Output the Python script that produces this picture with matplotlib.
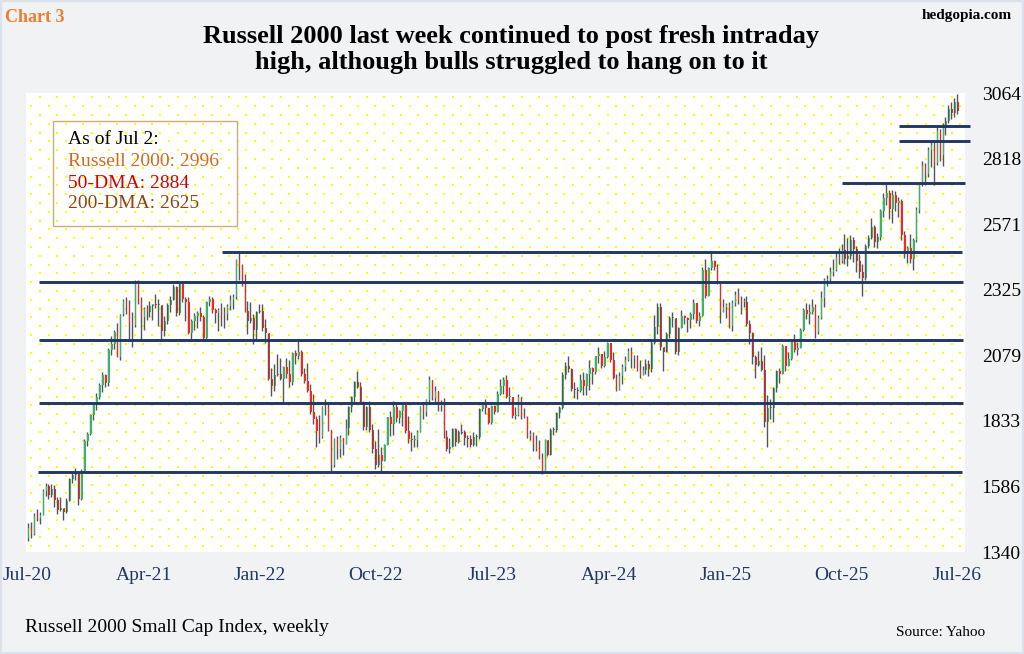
import matplotlib
matplotlib.use("Agg")
import matplotlib.pyplot as plt
import matplotlib.dates as mdates
import numpy as np
import pandas as pd
from matplotlib.patches import Rectangle

# ---------------- data (weekly Russell 2000, week ending Fridays from 2020-07-03) -------------
week_open = [
    # 2020
    1393, 1431, 1409, 1474, 1467, 1480, 1569, 1587, 1553, 1578, 1535, 1497, 1504, 1490, 1531, 1614,
    1631, 1637, 1538, 1644, 1756, 1785, 1855, 1893, 1924, 1969, 2006,
    # 2021
    1975, 2097, 2123, 2168, 2073, 2233, 2282, 2266, 2201, 2192, 2352, 2285, 2221, 2253, 2243, 2264,
    2271, 2267, 2268, 2171, 2207, 2268, 2287, 2335, 2237, 2345, 2292, 2280, 2163, 2209, 2226, 2236,
    2222, 2145, 2278, 2292, 2249, 2236, 2248, 2241, 2233, 2265, 2288, 2297, 2437, 2416, 2343, 2245,
    2206, 2219, 2173, 2240,
    # 2022
    2245, 2180, 2162, 1988, 1964, 2003, 2008, 1990, 2035, 2009, 1978, 2086, 2077, 2092, 2009, 1983,
    1945, 1864, 1839, 1793, 1773, 1887, 1883, 1800, 1665, 1765, 1727, 1770, 1744, 1806, 1885, 1921,
    1977, 1958, 1899, 1809, 1883, 1798, 1726, 1665, 1705, 1681, 1742, 1846, 1821, 1883, 1845, 1869,
    1892, 1796, 1763, 1760,
    # 2023
    1761, 1792, 1887, 1867, 1911, 1985, 1918, 1946, 1890, 1899, 1773, 1725, 1735, 1802, 1755, 1792,
    1791, 1768, 1764, 1741, 1773, 1773, 1876, 1900, 1880, 1823, 1889, 1865, 1934, 1964, 1985, 1921,
    1922, 1850, 1853, 1923, 1849, 1848, 1776, 1785, 1745, 1726, 1692, 1636, 1760, 1705, 1798, 1799,
    1863, 1880, 2004, 2037,
    # 2024
    2027, 1951, 1950, 1946, 1986, 1962, 2007, 2032, 2017, 2077, 2085, 2040, 2072, 2125, 2062, 1995,
    1947, 2002, 2036, 2060, 2096, 2069, 2070, 2023, 2006, 2023, 2048, 2026, 2126, 2184, 2260, 2109,
    2092, 2160, 2218, 2218, 2092, 2182, 2228, 2219, 2212, 2234, 2276, 2208, 2227, 2399, 2303, 2406,
    2434, 2409, 2347, 2240,
    # 2025
    2262, 2268, 2190, 2275, 2307, 2287, 2280, 2280, 2196, 2163, 2073, 2044, 2056, 2023, 1827, 1881,
    1881, 1957, 2020, 2007, 2113, 2039, 2066, 2132, 2098, 2107, 2172, 2249, 2235, 2240, 2261, 2166,
    2218, 2295, 2362, 2367, 2391, 2398, 2448, 2434, 2476, 2440, 2452, 2513, 2479, 2432, 2392, 2369,
    2490, 2520, 2560, 2505,
    # 2026
    2525, 2620, 2670, 2690, 2630, 2680, 2650, 2660, 2530, 2460, 2480, 2440, 2510, 2625, 2720, 2790,
    2760, 2850, 2870, 2800, 2920, 2830, 2940, 2960, 3005, 2990, 3030,
]
week_high = [
    # 2020
    1448, 1452, 1487, 1500, 1490, 1575, 1600, 1594, 1597, 1592, 1545, 1545, 1505, 1543, 1618, 1641,
    1656, 1637, 1650, 1766, 1790, 1859, 1896, 1939, 1975, 2017, 2010,
    # 2021
    2108, 2150, 2175, 2202, 2234, 2290, 2296, 2288, 2241, 2360, 2360, 2297, 2262, 2268, 2281, 2272,
    2308, 2290, 2268, 2225, 2275, 2300, 2345, 2340, 2350, 2349, 2296, 2298, 2215, 2236, 2245, 2260,
    2230, 2282, 2300, 2299, 2258, 2258, 2275, 2260, 2270, 2305, 2310, 2442, 2462, 2420, 2385, 2282,
    2280, 2235, 2245, 2272,
    # 2022
    2273, 2215, 2150, 2030, 2045, 2082, 2068, 2040, 2070, 2060, 2090, 2100, 2133, 2097, 2031, 2050,
    1970, 1935, 1852, 1855, 1890, 1915, 1900, 1780, 1767, 1775, 1780, 1765, 1840, 1890, 1925, 1982,
    2021, 1980, 1906, 1890, 1908, 1820, 1757, 1801, 1735, 1747, 1847, 1870, 1909, 1900, 1875, 1893,
    1880, 1850, 1790, 1778,
    # 2023
    1800, 1890, 1900, 1915, 2001, 1975, 1965, 1935, 1910, 1920, 1800, 1770, 1806, 1805, 1800, 1820,
    1800, 1780, 1780, 1790, 1785, 1880, 1905, 1915, 1880, 1892, 1893, 1945, 1990, 1998, 2003, 1960,
    1920, 1885, 1935, 1920, 1880, 1850, 1800, 1790, 1780, 1760, 1710, 1765, 1762, 1806, 1810, 1865,
    1890, 2015, 2052, 2075,
    # 2024
    2030, 1980, 1960, 2008, 2015, 2011, 2062, 2035, 2078, 2110, 2080, 2094, 2130, 2126, 2090, 2010,
    2015, 2047, 2075, 2108, 2110, 2080, 2080, 2060, 2040, 2065, 2060, 2135, 2230, 2277, 2275, 2110,
    2165, 2228, 2240, 2215, 2185, 2250, 2230, 2222, 2240, 2290, 2270, 2240, 2410, 2440, 2410, 2466,
    2438, 2420, 2355, 2290,
    # 2025
    2275, 2280, 2285, 2320, 2330, 2300, 2295, 2300, 2210, 2165, 2080, 2095, 2110, 2080, 1930, 1915,
    1960, 2025, 2030, 2120, 2110, 2090, 2140, 2160, 2130, 2180, 2255, 2275, 2270, 2290, 2270, 2230,
    2320, 2370, 2380, 2410, 2440, 2465, 2480, 2495, 2535, 2520, 2530, 2525, 2490, 2460, 2420, 2495,
    2530, 2595, 2570, 2540,
    # 2026
    2630, 2690, 2725, 2700, 2700, 2695, 2675, 2665, 2545, 2490, 2535, 2520, 2635, 2725, 2810, 2800,
    2860, 2885, 2882, 2935, 2930, 2950, 2975, 3020, 3030, 3045, 3060,
]
week_low = [
    # 2020
    1380, 1391, 1405, 1455, 1444, 1478, 1550, 1540, 1547, 1508, 1484, 1495, 1460, 1488, 1530, 1598,
    1609, 1517, 1535, 1640, 1738, 1780, 1835, 1875, 1915, 1940, 1960,
    # 2021
    1962, 2080, 2103, 2071, 2060, 2225, 2235, 2132, 2110, 2185, 2270, 2135, 2175, 2213, 2222, 2212,
    2256, 2190, 2135, 2150, 2195, 2240, 2285, 2225, 2230, 2280, 2207, 2160, 2133, 2175, 2181, 2208,
    2131, 2140, 2265, 2237, 2200, 2170, 2190, 2180, 2210, 2250, 2251, 2290, 2360, 2338, 2240, 2160,
    2200, 2123, 2131, 2236,
    # 2022
    2170, 2125, 1985, 1927, 1945, 2000, 1985, 1900, 1992, 1960, 1968, 2045, 2065, 2002, 1975, 1940,
    1860, 1820, 1733, 1750, 1770, 1855, 1796, 1641, 1660, 1690, 1697, 1706, 1744, 1780, 1865, 1900,
    1955, 1895, 1800, 1800, 1790, 1712, 1650, 1660, 1642, 1680, 1742, 1776, 1780, 1830, 1825, 1813,
    1788, 1748, 1718, 1733,
    # 2023
    1733, 1789, 1840, 1850, 1900, 1910, 1900, 1870, 1870, 1770, 1718, 1712, 1735, 1740, 1750, 1782,
    1741, 1735, 1735, 1740, 1740, 1765, 1870, 1860, 1820, 1820, 1857, 1865, 1930, 1935, 1918, 1900,
    1845, 1840, 1850, 1840, 1845, 1770, 1760, 1718, 1720, 1690, 1633, 1636, 1700, 1705, 1780, 1790,
    1845, 1878, 1990, 2017,
    # 2024
    1945, 1920, 1915, 1940, 1930, 1930, 1950, 1970, 2010, 2050, 2030, 2035, 2070, 2055, 1990, 1943,
    1947, 1970, 2020, 2058, 2030, 2030, 2020, 1995, 2005, 2010, 2000, 2016, 2120, 2160, 2100, 2020,
    2090, 2145, 2185, 2085, 2080, 2180, 2195, 2165, 2180, 2215, 2200, 2190, 2227, 2295, 2300, 2400,
    2398, 2345, 2200, 2240,
    # 2025
    2220, 2180, 2170, 2265, 2270, 2235, 2260, 2190, 2120, 2045, 1995, 2040, 2020, 1810, 1733, 1840,
    1830, 1940, 1975, 2007, 2020, 2039, 2060, 2090, 2080, 2105, 2170, 2215, 2195, 2235, 2145, 2160,
    2215, 2260, 2340, 2350, 2375, 2395, 2420, 2425, 2420, 2415, 2440, 2430, 2390, 2370, 2300, 2360,
    2480, 2515, 2485, 2480,
    # 2026
    2510, 2600, 2645, 2590, 2575, 2620, 2600, 2510, 2445, 2425, 2425, 2398, 2505, 2615, 2715, 2718,
    2750, 2785, 2720, 2795, 2810, 2790, 2905, 2950, 2965, 2975, 2985,
]
week_close = [
    # 2020
    1431, 1409, 1474, 1467, 1480, 1569, 1587, 1553, 1578, 1535, 1497, 1504, 1490, 1531, 1614, 1631,
    1637, 1538, 1644, 1756, 1785, 1855, 1893, 1924, 1969, 2006, 1975,
    # 2021
    2097, 2123, 2168, 2073, 2233, 2282, 2266, 2201, 2192, 2352, 2285, 2221, 2253, 2243, 2264, 2271,
    2267, 2268, 2171, 2207, 2268, 2287, 2335, 2237, 2345, 2292, 2280, 2163, 2209, 2226, 2236, 2222,
    2145, 2278, 2292, 2249, 2236, 2248, 2241, 2233, 2265, 2288, 2297, 2437, 2416, 2343, 2245, 2206,
    2219, 2173, 2240, 2245,
    # 2022
    2180, 2162, 1988, 1964, 2003, 2008, 1990, 2035, 2009, 1978, 2086, 2077, 2092, 2009, 1983, 1945,
    1864, 1839, 1793, 1773, 1887, 1883, 1800, 1665, 1765, 1727, 1770, 1744, 1806, 1885, 1921, 1977,
    1958, 1899, 1809, 1883, 1798, 1726, 1665, 1705, 1681, 1742, 1846, 1821, 1883, 1845, 1869, 1892,
    1796, 1763, 1760, 1761,
    # 2023
    1792, 1887, 1867, 1911, 1985, 1918, 1946, 1890, 1899, 1773, 1725, 1735, 1802, 1755, 1792, 1791,
    1768, 1764, 1741, 1773, 1773, 1876, 1900, 1880, 1823, 1889, 1865, 1934, 1964, 1985, 1921, 1922,
    1850, 1853, 1923, 1849, 1848, 1776, 1785, 1745, 1726, 1692, 1636, 1760, 1705, 1798, 1799, 1863,
    1880, 2004, 2037, 2027,
    # 2024
    1951, 1950, 1946, 1986, 1962, 2007, 2032, 2017, 2077, 2085, 2040, 2072, 2125, 2062, 1995, 1947,
    2002, 2036, 2060, 2096, 2069, 2070, 2023, 2006, 2023, 2048, 2026, 2126, 2184, 2260, 2109, 2092,
    2160, 2218, 2218, 2092, 2182, 2228, 2219, 2212, 2234, 2276, 2208, 2227, 2399, 2303, 2406, 2434,
    2409, 2347, 2240, 2262,
    # 2025
    2268, 2190, 2275, 2307, 2287, 2280, 2280, 2196, 2163, 2073, 2044, 2056, 2023, 1827, 1881, 1881,
    1957, 2020, 2007, 2113, 2039, 2066, 2132, 2098, 2107, 2172, 2249, 2235, 2240, 2261, 2166, 2218,
    2295, 2362, 2367, 2391, 2398, 2448, 2434, 2476, 2440, 2452, 2513, 2479, 2432, 2392, 2369, 2490,
    2520, 2560, 2505, 2525,
    # 2026
    2620, 2670, 2690, 2630, 2680, 2650, 2660, 2530, 2460, 2480, 2440, 2510, 2625, 2720, 2790, 2760,
    2850, 2870, 2800, 2920, 2830, 2940, 2960, 3005, 2990, 3030, 2996,
]
first_week = "2020-07-03"

# support / resistance lines
level_values = [2466, 2354, 2136, 1899, 1640, 2725, 2883, 2939]
level_start = ["2021-10-03", "2020-07-29", "2020-07-29", "2020-07-29", "2020-07-27",
               "2025-10-03", "2026-02-15", "2026-02-15"]
level_end = ["2026-07-14", "2026-07-16", "2026-07-16", "2026-07-16", "2026-07-14",
             "2026-07-20", "2026-08-01", "2026-08-01"]

x_tick_dates = ["2020-07-01", "2021-04-01", "2022-01-01", "2022-10-01", "2023-07-01",
                "2024-04-01", "2025-01-01", "2025-10-01", "2026-07-01"]
x_tick_labels = ["Jul-20", "Apr-21", "Jan-22", "Oct-22", "Jul-23", "Apr-24", "Jan-25",
                 "Oct-25", "Jul-26"]
y_ticks = [1340, 1586, 1833, 2079, 2325, 2571, 2818, 3064]
y_tick_labels = ["1340", "1586", "1833", "2079", "2325", "2571", "2818", "3064"]

title_lines = ["Russell 2000 last week continued to post fresh intraday",
               "high, although bulls struggled to hang on to it"]
info_lines = ["As of Jul 2:", "Russell 2000: 2996", "50-DMA: 2884", "200-DMA: 2625"]

# ---------------- style ----------------
plt.rcParams["font.family"] = ["Liberation Serif", "DejaVu Serif"]
W, H = 1024, 654
NAVY = "#1f3864"
GREEN = "#35b865"
RED = "#ff2020"
WICK = "#555555"


def fx(px):
    return px / W


def fy(py):
    return 1 - py / H


fig = plt.figure(figsize=(W / 100, H / 100), dpi=100, facecolor="#f1f2f4")
fig.patches.append(Rectangle((0, 0), 1, 1, transform=fig.transFigure, fill=False,
                             edgecolor="#dbe2ec", lw=3, zorder=0))

AX_L, AX_R, AX_T, AX_B = 26, 965, 93, 552
ax = fig.add_axes([fx(AX_L), fy(AX_B), (AX_R - AX_L) / W, (AX_B - AX_T) / H])
ax.set_facecolor("white")
for s in ax.spines.values():
    s.set_visible(False)

# dotted yellow background pattern
aw, ah = AX_R - AX_L, AX_B - AX_T
dot_x, dot_y = [], []
for r, yy in enumerate(np.arange(4.3, ah, 8.8)):
    x0 = 13.9 if r % 2 == 0 else 5.3
    for xx in np.arange(x0, aw, 17.2):
        dot_x.append(xx / aw)
        dot_y.append(1 - yy / ah)
ax.scatter(dot_x, dot_y, s=4.5, marker="s", color="#ffff00", linewidths=0,
           transform=ax.transAxes, zorder=0.5)

# candles
o = np.array(week_open, float)
h = np.array(week_high, float)
l = np.array(week_low, float)
c = np.array(week_close, float)
n = len(c)
dates = pd.date_range(first_week, periods=n, freq="7D")
xd = mdates.date2num(dates)
hi = np.maximum(h, np.maximum(o, c))
lo = np.minimum(l, np.minimum(o, c))
ax.vlines(xd - 1.0, lo, hi, color=WICK, lw=1.0, zorder=2)
body = c - o
body = np.where(np.abs(body) < 4, np.where(body >= 0, 4, -4), body)
cols = np.where(c >= o, GREEN, RED)
ax.bar(xd + 1.4, body, bottom=o, width=3.2, color=cols, linewidth=0, zorder=2.5)

# support / resistance lines
for v, s0, s1 in zip(level_values, level_start, level_end):
    ax.plot(mdates.date2num(pd.to_datetime([s0, s1])), [v, v], color=NAVY, lw=2.1,
            solid_capstyle="butt", clip_on=False, zorder=3)

# axes limits / ticks
ax.set_xlim(mdates.date2num(pd.Timestamp("2020-06-28")),
            mdates.date2num(pd.Timestamp("2026-07-20")))
ax.set_ylim(1340, 3064)
ax.set_xticks(mdates.date2num(pd.to_datetime(x_tick_dates)))
ax.set_xticklabels(x_tick_labels)
ax.tick_params(axis="x", length=0, pad=11, labelsize=14, labelcolor=NAVY)
ax.yaxis.tick_right()
ax.set_yticks(y_ticks)
ax.set_yticklabels(y_tick_labels)
ax.tick_params(axis="y", length=0, pad=12, labelsize=14, labelcolor="black")

# titles & annotations
fig.text(fx(511), fy(37), title_lines[0], ha="center", va="center", fontsize=19,
         fontweight="bold")
fig.text(fx(511), fy(63), title_lines[1], ha="center", va="center", fontsize=19,
         fontweight="bold")
fig.text(fx(5), fy(17), "Chart 3", ha="left", va="center", fontsize=13,
         fontweight="bold", color="#ed7d31")
fig.text(fx(1012), fy(16), "hedgopia.com", ha="right", va="center", fontsize=11,
         fontweight="bold", color="black")

fig.patches.append(Rectangle((fx(53), fy(226)), (237 - 53) / W, (226 - 121) / H,
                             transform=fig.transFigure, fill=False,
                             edgecolor="#c9ad7a", lw=1.0, zorder=5))
info_colors = ["black", "#d2691e", "#d00000", "#8b4513"]
for txt, col, yy in zip(info_lines, info_colors, [140, 161, 183, 204]):
    fig.text(fx(68), fy(yy), txt, ha="left", va="center", fontsize=14, color=col)

fig.text(fx(25), fy(627), "Russell 2000 Small Cap Index, weekly", ha="left", va="center",
         fontsize=14)
fig.text(fx(985), fy(633), "Source: Yahoo", ha="right", va="center", fontsize=11)

fig.savefig("out.png", dpi=100, facecolor=fig.get_facecolor())
